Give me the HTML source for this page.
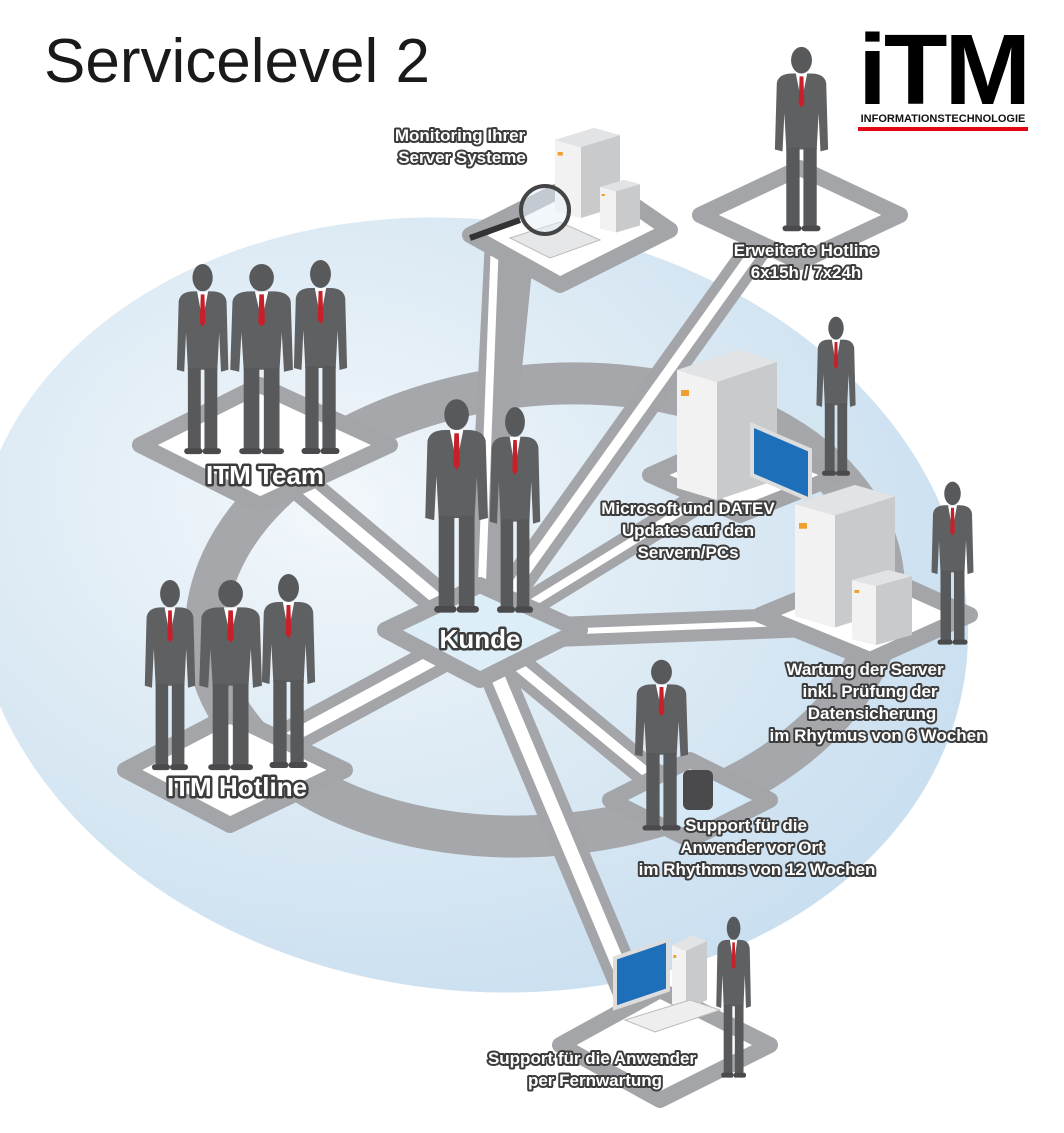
<!DOCTYPE html>
<html><head><meta charset="utf-8"><style>
html,body{margin:0;padding:0;background:#fff;}
svg{display:block}
.lbl{font-family:"Liberation Sans",sans-serif;font-weight:bold;font-size:17px;fill:#fff;stroke:#3c3c3c;stroke-width:4px;paint-order:stroke;stroke-linejoin:round;text-anchor:middle}
.big{font-size:26px;stroke-width:5px}
</style></head><body>
<svg width="1064" height="1133" viewBox="0 0 1064 1133" xmlns="http://www.w3.org/2000/svg">
<defs>
<radialGradient id="bg" cx="0.35" cy="0.4" r="0.7">
<stop offset="0" stop-color="#f2f7fb"/><stop offset="0.6" stop-color="#d9e8f3"/><stop offset="1" stop-color="#c8def0"/>
</radialGradient>
<g id="p">
<ellipse cx="30" cy="16" rx="11" ry="14" fill="#58595b"/>
<path d="M4 40 Q6 30 20 30 L40 30 Q54 30 56 40 L58 110 L50 112 L48 72 L46 110 L14 110 L12 72 L10 112 L2 110 Z" fill="#5f6062"/>
<path d="M24 30 L36 30 L30 60 Z" fill="#fff"/>
<path d="M28 33 L32 33 L33 62 L30 66 L27 62 Z" fill="#c8202a"/>
<rect x="14" y="108" width="14" height="86" fill="#58595b"/>
<rect x="32" y="108" width="14" height="86" fill="#58595b"/>
<rect x="10" y="190" width="20" height="6" rx="3" fill="#4a4a4c"/>
<rect x="30" y="190" width="20" height="6" rx="3" fill="#4a4a4c"/>
</g>
<g id="srv">
<path d="M0 20 L60 0 L100 12 L100 130 L40 150 L0 138 Z" fill="#c9cacc"/>
<path d="M0 20 L40 32 L40 150 L0 138 Z" fill="#f2f2f2"/>
<path d="M0 20 L60 0 L100 12 L40 32 Z" fill="#e2e3e4"/>
<rect x="4" y="40" width="8" height="6" fill="#f0a030"/>
</g>
</defs>
<ellipse cx="470" cy="605" rx="500" ry="385" transform="rotate(8 470 605)" fill="url(#bg)"/>
<ellipse cx="545" cy="610" rx="340" ry="225" fill="none" stroke="#a5a7aa" stroke-width="42" transform="rotate(-6 545 610)"/>
<g stroke="#a3a5a8" stroke-linecap="round" fill="none">
<line x1="480" y1="635" x2="260" y2="450" stroke-width="34"/>
<line x1="480" y1="635" x2="230" y2="770" stroke-width="34"/>
<line x1="480" y1="635" x2="500" y2="240" stroke-width="30"/>
<line x1="480" y1="635" x2="520" y2="240" stroke-width="30"/>
<line x1="480" y1="635" x2="780" y2="215" stroke-width="30"/>
<line x1="480" y1="635" x2="740" y2="475" stroke-width="26"/>
<line x1="480" y1="635" x2="860" y2="620" stroke-width="30"/>
<line x1="480" y1="635" x2="680" y2="800" stroke-width="30"/>
<line x1="480" y1="635" x2="650" y2="1040" stroke-width="34"/>
</g>
<g stroke="#fff" stroke-linecap="round" fill="none">
<line x1="480" y1="635" x2="260" y2="450" stroke-width="12"/>
<line x1="480" y1="635" x2="230" y2="770" stroke-width="12"/>
<line x1="480" y1="635" x2="495" y2="240" stroke-width="8"/>
<line x1="480" y1="635" x2="780" y2="215" stroke-width="10"/>
<line x1="480" y1="635" x2="740" y2="475" stroke-width="8"/>
<line x1="480" y1="635" x2="860" y2="620" stroke-width="6"/>
<line x1="480" y1="635" x2="680" y2="800" stroke-width="10"/>
<line x1="480" y1="635" x2="650" y2="1040" stroke-width="14"/>
</g>
<g stroke="#a3a5a8" stroke-width="16" stroke-linejoin="round">
<polygon points="140,445 260,385 390,445 260,505" fill="#fff"/>
<polygon points="125,770 230,715 345,770 230,825" fill="#fff"/>
<polygon points="470,235 590,175 670,230 560,285" fill="#fff"/>
<polygon points="700,215 800,168 900,215 800,262" fill="#fff"/>
<polygon points="650,475 740,435 840,475 740,515" fill="#fff"/>
<polygon points="760,615 870,570 970,615 870,660" fill="#fff"/>
<polygon points="610,800 690,760 770,800 690,840" fill="#d5e8f5"/>
<polygon points="560,1045 660,990 770,1045 660,1100" fill="#fff"/>
<polygon points="385,630 480,585 580,630 480,680" fill="#ddeef9"/>
</g>
<use href="#srv" transform="translate(555,128) scale(0.65 0.6)"/>
<use href="#srv" transform="translate(600,180) scale(0.4 0.35)"/>
<path d="M510 238 L560 222 L600 240 L550 258 Z" fill="#e6e7e8" stroke="#bbb"/>
<line x1="470" y1="238" x2="520" y2="220" stroke="#333" stroke-width="6"/>
<circle cx="545" cy="210" r="24" fill="rgba(230,240,250,0.5)" stroke="#444" stroke-width="4"/>
<use href="#srv" transform="translate(677,350)"/>
<path d="M752 425 L810 450 L810 500 L752 475 Z" fill="#1c6fb8" stroke="#ddd" stroke-width="4"/>
<use href="#srv" transform="translate(795,485) scale(1 0.95)"/>
<use href="#srv" transform="translate(852,570) scale(0.6 0.5)"/>
<path d="M615 958 L668 940 L668 990 L615 1008 Z" fill="#1c6fb8" stroke="#ddd" stroke-width="4"/>
<use href="#srv" transform="translate(672,935) scale(0.35 0.5)"/>
<path d="M625 1020 L690 1000 L720 1010 L655 1032 Z" fill="#eee" stroke="#bbb"/>
<rect x="683" y="770" width="30" height="40" rx="6" fill="#4a4a4c"/>
<use href="#p" transform="translate(773,45) scale(0.95)"/>
<use href="#p" transform="translate(175,262) scale(0.92 0.98)"/>
<use href="#p" transform="translate(228,262) scale(1.12 0.98)"/>
<use href="#p" transform="translate(292,258) scale(0.95 1)"/>
<use href="#p" transform="translate(143,578) scale(0.9 0.98)"/>
<use href="#p" transform="translate(197,578) scale(1.12 0.98)"/>
<use href="#p" transform="translate(260,572) scale(0.95 1)"/>
<use href="#p" transform="translate(423,397) scale(1.12 1.1)"/>
<use href="#p" transform="translate(488,405) scale(0.9 1.06)"/>
<use href="#p" transform="translate(815,315) scale(0.7 0.82)"/>
<use href="#p" transform="translate(930,480) scale(0.75 0.84)"/>
<use href="#p" transform="translate(633,658) scale(0.95 0.88)"/>
<use href="#p" transform="translate(715,915) scale(0.62 0.83)"/>
<text x="44" y="82" font-family="Liberation Sans,sans-serif" font-size="62" fill="#1a1a1a">Servicelevel 2</text>
<text x="943" y="104" text-anchor="middle" font-family="Liberation Sans,sans-serif" font-size="100" font-weight="bold" fill="#000" letter-spacing="-3" textLength="170" lengthAdjust="spacingAndGlyphs">iTM</text>
<text x="943" y="122" text-anchor="middle" font-family="Liberation Sans,sans-serif" font-size="11" font-weight="bold" fill="#111">INFORMATIONSTECHNOLOGIE</text>
<rect x="858" y="127" width="170" height="4" fill="#e30613"/>
<text class="lbl" x="460" y="141">Monitoring Ihrer</text>
<text class="lbl" x="462" y="163">Server Systeme</text>
<text class="lbl" x="806" y="256">Erweiterte Hotline</text>
<text class="lbl" x="806" y="278">6x15h / 7x24h</text>
<text class="lbl big" x="265" y="484">ITM Team</text>
<text class="lbl big" x="237" y="796">ITM Hotline</text>
<text class="lbl big" x="480" y="648">Kunde</text>
<text class="lbl" x="688" y="514">Microsoft und DATEV</text>
<text class="lbl" x="688" y="536">Updates auf den</text>
<text class="lbl" x="688" y="558">Servern/PCs</text>
<text class="lbl" x="865" y="675">Wartung der Server</text>
<text class="lbl" x="870" y="697">inkl. Prüfung der</text>
<text class="lbl" x="872" y="719">Datensicherung</text>
<text class="lbl" x="878" y="741">im Rhytmus von 6 Wochen</text>
<text class="lbl" x="746" y="831">Support für die</text>
<text class="lbl" x="752" y="853">Anwender vor Ort</text>
<text class="lbl" x="757" y="875">im Rhythmus von 12 Wochen</text>
<text class="lbl" x="592" y="1064">Support für die Anwender</text>
<text class="lbl" x="595" y="1086">per Fernwartung</text>
</svg>
</body></html>
